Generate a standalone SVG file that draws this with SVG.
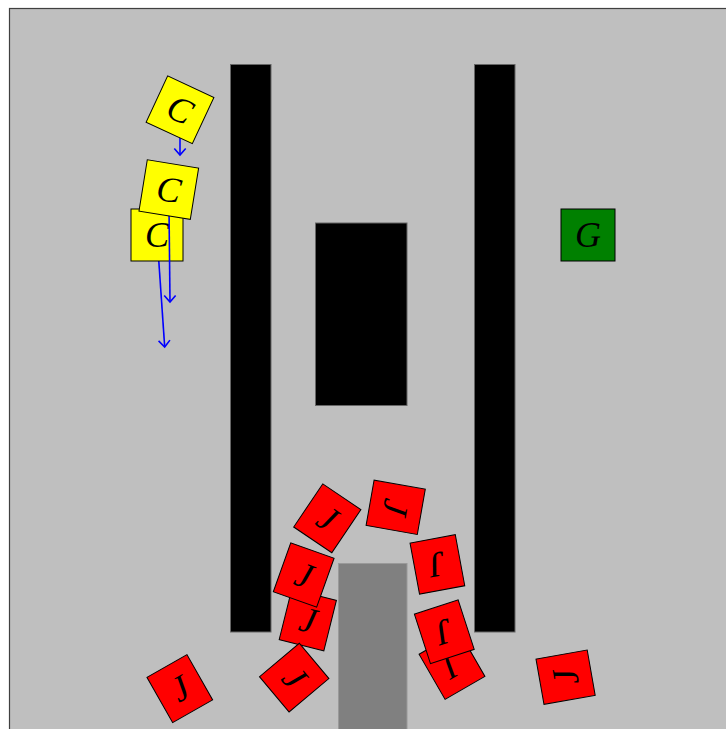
<svg xmlns="http://www.w3.org/2000/svg" width="726" height="729" viewBox="0 0 726 729">
<style>
.frame{fill:#bfbfbf;stroke:#404040;stroke-width:1.2}
.wall{fill:#000;stroke:#666;stroke-width:1}
.tool{fill:#808080;stroke:#999;stroke-width:1}
.box{stroke:#000;stroke-width:1}
.c{fill:#ffff00}
.j{fill:#ff0000}
.g{fill:#008000}
.lbl{font-family:"Liberation Serif","Times New Roman",serif;font-style:italic;font-size:36px;text-anchor:middle;fill:#000}
.arr{stroke:#0000ff;stroke-width:1.6;fill:none;marker-end:url(#ah)}
</style>
<defs>
<marker id="ah" markerUnits="userSpaceOnUse" orient="auto" markerWidth="16" markerHeight="16" refX="0" refY="0" viewBox="-8 -8 16 16" overflow="visible">
<path d="M-6.5,-5.7 L0,0 L-6.5,5.7" fill="none" stroke="#0000ff" stroke-width="1.6"/>
</marker>
</defs>
<rect x="0" y="0" width="726" height="729" fill="#fff"/>
<rect class="frame" x="9.5" y="8.5" width="730" height="730"/>
<g id="walls">
<rect class="wall" x="230.5" y="64.5" width="40.5" height="567.5"/>
<rect class="wall" x="474.5" y="64.5" width="40.5" height="567.5"/>
<rect class="wall" x="315.5" y="223" width="91.5" height="182.5"/>
<rect class="tool" x="338.5" y="563.5" width="68.5" height="170"/>
</g>
<g id="connectors">
<line class="arr" x1="157" y1="235" x2="164.7" y2="347"/>
</g>
<g id="C3" transform="translate(157,235)"><rect class="box c" x="-26" y="-26" width="52" height="52"/><text class="lbl" x="0" y="12">C</text></g>
<g id="connectors2">
<line class="arr" x1="168.8" y1="189.6" x2="170" y2="302"/>
</g>
<g id="C2" transform="translate(168.8,189.6) rotate(9.2)"><rect class="box c" x="-26" y="-26" width="52" height="52"/><text class="lbl" x="0" y="12">C</text></g>
<g id="connectors3">
<line class="arr" x1="180" y1="110" x2="180" y2="155"/>
</g>
<g id="C1" transform="translate(180,109.8) rotate(25)"><rect class="box c" x="-25.5" y="-25.5" width="51" height="51"/><text class="lbl" x="0" y="12">C</text></g>
<g id="G" transform="translate(588,235)"><rect class="box g" x="-27" y="-26" width="54" height="52"/><text class="lbl" x="0" y="12">G</text></g>
<g id="J5" transform="translate(307.8,620) rotate(14)"><rect class="box j" x="-23" y="-26" width="46" height="52"/><text class="lbl" x="0" y="12">J</text></g>
<g id="J8" transform="translate(294.2,677.6) rotate(50)"><rect class="box j" x="-23" y="-26" width="46" height="52"/><text class="lbl" x="0" y="12">J</text></g>
<g id="J4" transform="translate(303.7,575) rotate(19.6)"><rect class="box j" x="-23" y="-26" width="46" height="52"/><text class="lbl" x="0" y="12">J</text></g>
<g id="J1" transform="translate(327.3,518.3) rotate(34)"><rect class="box j" x="-23" y="-26" width="46" height="52"/><text class="lbl" x="0" y="12">J</text></g>
<g id="J2" transform="translate(395.7,507.3) rotate(100)"><rect class="box j" x="-23" y="-26" width="46" height="52"/><text class="lbl" x="0" y="12">J</text></g>
<g id="J3" transform="translate(437.4,564.4) rotate(169.5)"><rect class="box j" x="-23" y="-26" width="46" height="52"/><text class="lbl" x="0" y="12">J</text></g>
<g id="J7" transform="translate(452,665.3) rotate(150)"><rect class="box j" x="-23" y="-26" width="46" height="52"/><text class="lbl" x="0" y="12">J</text></g>
<g id="J6" transform="translate(444.3,631.8) rotate(162)"><rect class="box j" x="-23" y="-26" width="46" height="52"/><text class="lbl" x="0" y="12">J</text></g>
<g id="J9" transform="translate(179.8,688.6) rotate(-29.6)"><rect class="box j" x="-23" y="-26" width="46" height="52"/><text class="lbl" x="0" y="12">J</text></g>
<g id="J10" transform="translate(565.6,677.2) rotate(-100)"><rect class="box j" x="-23" y="-26" width="46" height="52"/><text class="lbl" x="0" y="12">J</text></g>
</svg>
